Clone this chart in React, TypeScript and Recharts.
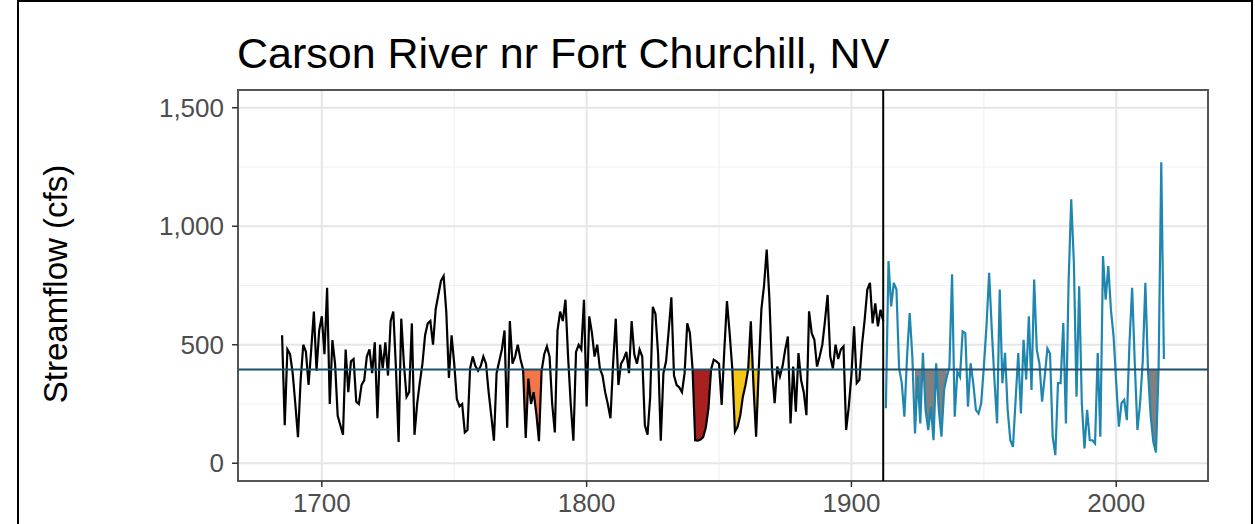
import React from 'react';
import {
    ComposedChart,
    Line,
    Area,
    XAxis,
    YAxis,
    CartesianGrid,
    ReferenceLine,
    ReferenceArea,
} from 'recharts';

const FONT = '"Liberation Sans", Arial, Helvetica, sans-serif';

// reconstructed annual flow (cfs), one value per year from RECON_START
const RECON_START = 1685;
const RECON_FLOW = [
    540, 160, 480, 460, 380, 250, 110, 350, 500, 470, // 1685
    330, 480, 640, 390, 560, 620, 460, 740, 250, 520, // 1695
    420, 200, 160, 120, 480, 300, 430, 440, 260, 250, // 1705
    330, 350, 450, 480, 380, 510, 190, 500, 400, 510, // 1715
    370, 600, 640, 400, 90, 610, 420, 280, 300, 590, // 1725
    120, 250, 340, 420, 540, 590, 600, 500, 650, 710, // 1735
    770, 790, 640, 360, 540, 420, 270, 240, 250, 130, // 1745
    140, 400, 450, 410, 390, 410, 450, 420, 300, 200, // 1755
    95, 380, 430, 480, 560, 150, 600, 420, 450, 500, // 1765
    440, 396, 107, 357, 250, 300, 210, 93, 390, 460, // 1775
    493, 450, 250, 130, 560, 640, 600, 690, 450, 250, // 1785
    95, 470, 500, 480, 690, 240, 620, 550, 450, 500, // 1795
    400, 370, 300, 250, 190, 420, 610, 330, 420, 440, // 1805
    470, 380, 600, 460, 420, 480, 450, 160, 120, 280, // 1815
    660, 630, 460, 95, 380, 430, 560, 700, 370, 330, // 1825
    320, 300, 380, 590, 550, 400, 97, 95, 100, 110, // 1835
    150, 230, 396, 437, 430, 420, 246, 478, 684, 550, // 1845
    400, 133, 154, 200, 281, 330, 396, 599, 330, 112, // 1855
    396, 650, 750, 902, 700, 400, 253, 408, 366, 410, // 1865
    480, 535, 168, 408, 217, 465, 350, 300, 203, 641, // 1875
    549, 521, 408, 450, 500, 600, 710, 450, 400, 500, // 1885
    440, 480, 493, 140, 239, 373, 578, 338, 352, 500, // 1895
    606, 733, 761, 590, 675, 578, 648, 600, // 1905
];

// gauged annual flow (cfs) from OBS_START
const OBS_START = 1913;
const OBS_FLOW = [
    232, 853, 662, 761, 733, 400, 340, 196, 451, 634, // 1913
    451, 126, 367, 168, 466, 225, 140, 239, 97, 422, // 1923
    225, 112, 311, 364, 407, 797, 196, 387, 364, 556, // 1933
    549, 239, 422, 338, 225, 210, 253, 407, 578, 804, // 1943
    564, 352, 168, 733, 338, 466, 225, 97, 69, 267, // 1953
    465, 210, 521, 353, 620, 309, 775, 479, 420, 260, // 1963
    367, 484, 463, 112, 34, 338, 338, 592, 168, 761, // 1973
    1114, 846, 281, 747, 253, 62, 225, 97, 97, 83, // 1983
    465, 112, 874, 690, 832, 646, 535, 338, 154, 254, // 1993
    267, 182, 507, 740, 422, 140, 253, 430, 761, 390, // 2003
    200, 90, 45, 400, 1270, 440, // 2013
];

const MEAN_FLOW = 396;
const SPLIT_YEAR = 1912;

// drought periods shaded between the flow line and the mean
const DROUGHT_START = [1776, 1840, 1855, 1924, 2012];
const DROUGHT_END = [1783, 1847, 1865, 1936, 2016];
const DROUGHT_COLOR = ['#F4774B', '#A8201F', '#F5C518', '#808080', '#808080'];

const X_TICKS = [1700, 1800, 1900, 2000];
const X_MINOR = [1750, 1850, 1950];
const Y_TICKS = [0, 500, 1000, 1500];
const Y_MINOR = [250, 750, 1250];

const LAST_YEAR = OBS_START + OBS_FLOW.length - 1;
const X_SPAN = LAST_YEAR - RECON_START;
const X_DOMAIN = [RECON_START - 0.05 * X_SPAN, LAST_YEAR + 0.05 * X_SPAN];
const Y_SPAN = Y_TICKS[Y_TICKS.length - 1] - Y_TICKS[0];
const Y_DOMAIN = [Y_TICKS[0] - 0.05 * Y_SPAN, Y_TICKS[Y_TICKS.length - 1] + 0.05 * Y_SPAN];

const rows: any[] = [];
for (let year = RECON_START; year <= LAST_YEAR; year++) {
    const isObs = year >= OBS_START;
    const flow = isObs ? OBS_FLOW[year - OBS_START] : RECON_FLOW[year - RECON_START];
    const row: any = {
        year,
        recon: isObs ? null : flow,
        obs: isObs ? flow : null,
    };
    DROUGHT_START.forEach((start, i) => {
        row[`d${i}`] = year >= start && year <= DROUGHT_END[i] ? [flow, MEAN_FLOW] : null;
    });
    rows.push(row);
}

const tickStyle = { fill: '#4d4d4d', fontSize: 26, fontFamily: FONT };

const App: React.FC = () => {
    return (
        <div
            style={{
                position: 'absolute',
                left: 0,
                top: 0,
                width: 1255,
                height: 524,
                background: '#fff',
                overflow: 'hidden',
                fontFamily: FONT,
            }}
        >
            {/* outer frame */}
            <div
                style={{
                    position: 'absolute',
                    left: 17,
                    top: 0,
                    width: 1236,
                    height: 600,
                    border: '2px solid #000',
                    boxSizing: 'border-box',
                }}
            />
            <div
                style={{
                    position: 'absolute',
                    left: 237,
                    top: 32,
                    fontSize: 43,
                    lineHeight: '43px',
                    color: '#000',
                    whiteSpace: 'nowrap',
                }}
            >
                Carson River nr Fort Churchill, NV
            </div>
            <div
                style={{
                    position: 'absolute',
                    left: 55,
                    top: 284,
                    fontSize: 33,
                    lineHeight: '33px',
                    color: '#000',
                    whiteSpace: 'nowrap',
                    transform: 'translate(-50%, -50%) rotate(-90deg)',
                }}
            >
                Streamflow (cfs)
            </div>
            <div style={{ position: 'absolute', left: 0, top: 0 }}>
                <ComposedChart
                    width={1255}
                    height={524}
                    data={rows}
                    margin={{ top: 90, right: 47, bottom: 3, left: 158 }}
                >
                    <CartesianGrid
                        stroke="#f1f1f1"
                        strokeWidth={1.2}
                        horizontalValues={Y_MINOR}
                        verticalValues={X_MINOR}
                    />
                    <CartesianGrid
                        stroke="#e6e6e6"
                        strokeWidth={2}
                        horizontalValues={Y_TICKS}
                        verticalValues={X_TICKS}
                    />
                    <XAxis
                        type="number"
                        dataKey="year"
                        domain={X_DOMAIN}
                        ticks={X_TICKS}
                        interval={0}
                        allowDataOverflow
                        axisLine={false}
                        tickLine={{ stroke: '#333', strokeWidth: 1.5 }}
                        tickSize={6}
                        tickMargin={7}
                        height={40}
                        tick={tickStyle}
                    />
                    <YAxis
                        type="number"
                        domain={Y_DOMAIN}
                        ticks={Y_TICKS}
                        interval={0}
                        allowDataOverflow
                        axisLine={false}
                        tickLine={{ stroke: '#333', strokeWidth: 1.5 }}
                        tickSize={6}
                        tickMargin={8}
                        width={80}
                        tick={tickStyle}
                        tickFormatter={(v: number) => v.toLocaleString('en-US')}
                    />
                    {DROUGHT_START.map((start, i) => (
                        <Area
                            key={start}
                            dataKey={`d${i}`}
                            type="linear"
                            stroke="none"
                            fill={DROUGHT_COLOR[i]}
                            fillOpacity={1}
                            isAnimationActive={false}
                        />
                    ))}
                    <Line
                        dataKey="recon"
                        type="linear"
                        stroke="#000"
                        strokeWidth={2.2}
                        dot={false}
                        isAnimationActive={false}
                    />
                    <Line
                        dataKey="obs"
                        type="linear"
                        stroke="#1f86b0"
                        strokeWidth={2.2}
                        dot={false}
                        isAnimationActive={false}
                    />
                    <ReferenceLine y={MEAN_FLOW} stroke="#1d4e6b" strokeWidth={2} />
                    <ReferenceLine x={SPLIT_YEAR} stroke="#000" strokeWidth={2} />
                    <ReferenceArea
                        x1={X_DOMAIN[0]}
                        x2={X_DOMAIN[1]}
                        y1={Y_DOMAIN[0]}
                        y2={Y_DOMAIN[1]}
                        fill="none"
                        fillOpacity={0}
                        stroke="#555"
                        strokeWidth={2}
                        ifOverflow="visible"
                    />
                </ComposedChart>
            </div>
        </div>
    );
};

export default App;
